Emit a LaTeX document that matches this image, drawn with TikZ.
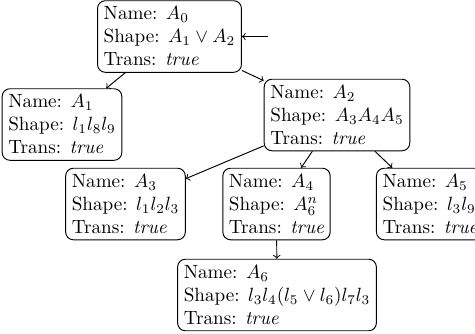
\documentclass[tikz,border=0pt]{standalone}
\usetikzlibrary{arrows}
\begin{document}
\begin{tikzpicture}[x=0.522pt,y=-0.522pt,
  box/.style={draw,rounded corners=4pt,align=left,inner sep=3.2pt,line width=0.5pt},
  edge/.style={->,line width=0.5pt}]
\useasboundingbox (0,0) rectangle (475,334);
\node[box] (A0) at (169.5,36.5) {Name: $A_0$\\Shape: $A_1\vee A_2$\\Trans: \textit{true}};
\node[box] (A1) at (62,124.5) {Name: $A_1$\\Shape: $l_1l_8l_9$\\Trans: \textit{true}};
\node[box] (A2) at (337,115) {Name: $A_2$\\Shape: $A_3A_4A_5$\\Trans: \textit{true}};
\node[box] (A3) at (125.5,204) {Name: $A_3$\\Shape: $l_1l_2l_3$\\Trans: \textit{true}};
\node[box] (A4) at (276.5,204) {Name: $A_4$\\Shape: $A_6^n$\\Trans: \textit{true}};
\node[box,anchor=west] (A5) at (376,204) {Name: $A_5$\\Shape: $l_3l_9$\\Trans: \textit{true}};
\node[box] (A6) at (277,295) {Name: $A_6$\\Shape: $l_3l_4(l_5\vee l_6)l_7l_3$\\Trans: \textit{true}};
\coordinate (in) at (268,36.5);
\draw[edge] (in) -- (A0);
\draw[edge] (A0) -- (A1);
\draw[edge] (A0) -- (A2);
\draw[edge] (A2) -- (A3);
\draw[edge] (A2) -- (A4);
\draw[edge] (A2) -- (A5);
\draw[edge] (A4) -- (A6);
\end{tikzpicture}
\end{document}
